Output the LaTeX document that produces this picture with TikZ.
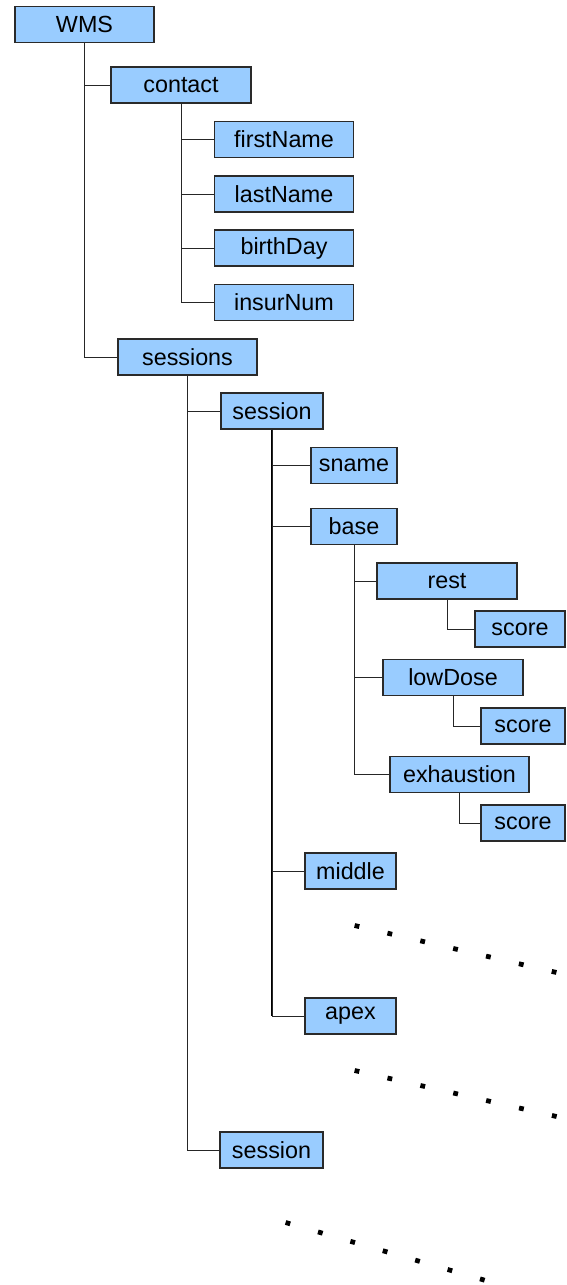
\documentclass[tikz,border=0pt]{standalone}
\usepackage{fontspec}
\setmainfont{Liberation Sans}
\definecolor{boxfill}{HTML}{99CCFF}
\definecolor{boxline}{HTML}{2A2A2A}
\begin{document}
\begin{tikzpicture}[x=0.75pt,y=-0.75pt,
  box/.style={draw=boxline,fill=boxfill,line width=0.9pt,inner sep=0pt,
    minimum height=27pt,font=\fontsize{17.5}{20}\selectfont},
  link/.style={draw=black!85,line width=0.75pt},
  trunk/.style={draw=black,line width=1.5pt},
  dotrow/.style={line width=3.6pt,dash pattern=on 3.6pt off 21.7pt,draw=black}]
\useasboundingbox (0,0) rectangle (567,1285);
% nodes
\node[box,minimum width=104.25pt] (wms) at (84.5,24.5) {WMS};
\node[box,minimum width=105pt] (contact) at (181,85) {contact};
\node[box,minimum width=104.25pt] (first) at (284,139.5) {firstName};
\node[box,minimum width=104.25pt] (last) at (284,194) {lastName};
\node[box,minimum width=104.25pt] (birth) at (284,248) {birthDay};
\node[box,minimum width=104.25pt] (insur) at (284,302.5) {insurNum};
\node[box,minimum width=104.25pt] (sessions) at (187.5,357) {sessions};
\node[box,minimum width=76.5pt] (session) at (272,411) {session};
\node[box,minimum width=64.5pt] (sname) at (354,465.5) {sname};
\node[box,minimum width=64.5pt] (base) at (354,526.5) {base};
\node[box,minimum width=105pt] (rest) at (447,581) {rest};
\node[box,minimum width=67.5pt] (score1) at (520,629) {score};
\node[box,minimum width=105pt] (lowdose) at (453,677.5) {lowDose};
\node[box,minimum width=63pt] (score2) at (523,726) {score};
\node[box,minimum width=104.25pt] (exh) at (459.5,774.5) {exhaustion};
\node[box,minimum width=63pt] (score3) at (523,823) {score};
\node[box,minimum width=68.25pt] (middle) at (350.5,871) {middle};
\node[box,minimum width=68.25pt] (apex) at (350.5,1016) {apex};
\node[box,minimum width=77.25pt] (session2) at (271.5,1150) {session};
% connectors
\draw[link] (wms.south) |- (contact.west);
\draw[link] (wms.south) |- (sessions.west);
\draw[link] (contact.south) |- (first.west);
\draw[link] (contact.south) |- (last.west);
\draw[link] (contact.south) |- (birth.west);
\draw[link] (contact.south) |- (insur.west);
\draw[link] (sessions.south) |- (session.west);
\draw[link] (sessions.south) |- (session2.west);
\draw[trunk] (session.south) -- (session.south |- apex.west);
\draw[link] (session.south) |- (sname.west);
\draw[link] (session.south) |- (base.west);
\draw[link] (session.south) |- (middle.west);
\draw[link] (session.south) |- (apex.west);
\draw[link] (base.south) |- (rest.west);
\draw[link] (base.south) |- (lowdose.west);
\draw[link] (base.south) |- (exh.west);
\draw[link] (rest.south) |- (score1.west);
\draw[link] (lowdose.south) |- (score2.west);
\draw[link] (exh.south) |- (score3.west);
% dotted continuation marks
\draw[dotrow] (354.6,925.5) -- (557,972.6);
\draw[dotrow] (354.6,1070.5) -- (557,1116.6);
\draw[dotrow] (285.6,1222.5) -- (486,1280.6);
\end{tikzpicture}
\end{document}
